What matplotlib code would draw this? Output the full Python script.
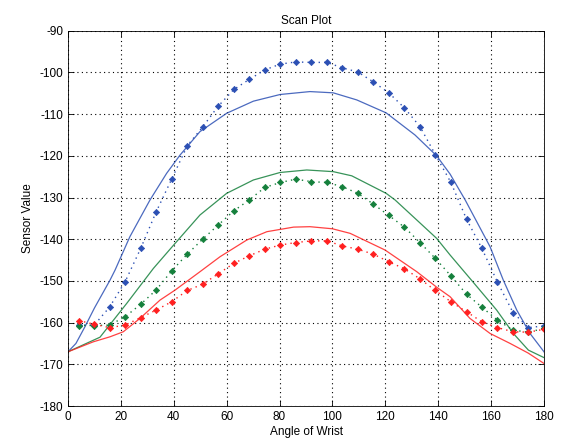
import matplotlib
matplotlib.use("Agg")
import matplotlib.pyplot as plt

plt.rcParams['font.family'] = ['Liberation Sans', 'DejaVu Sans']
plt.rcParams['axes.unicode_minus'] = False

# Measured (dotted, markers)
x_meas = [4, 9.9, 15.7, 21.6, 27.5, 33.3, 39.2, 45.1, 50.9, 56.8, 62.7, 68.5, 74.4, 80.3, 86.1,
          92, 97.9, 103.7, 109.6, 115.5, 121.3, 127.2, 133.1, 138.9, 144.8, 150.7, 156.5,
          162.4, 168.3, 174.1, 180]
blue_meas = [-160.6, -160.6, -156.3, -150.2, -142.2, -133.5, -125.6, -117.6, -113.1, -108.1,
             -104.1, -101.7, -99.4, -98.0, -97.5, -97.6, -97.6, -98.9, -99.9, -102.3, -104.9,
             -108.5, -113.0, -119.7, -126.4, -135.2, -142.2, -150.3, -157.6, -161.2, -160.8]
green_meas = [-160.7, -160.7, -160.6, -158.6, -155.6, -152.2, -147.6, -143.6, -140.0, -136.6,
              -133.2, -130.6, -127.6, -126.4, -125.6, -126.2, -126.4, -127.4, -129.0, -131.6,
              -134.3, -137.1, -140.8, -144.6, -148.8, -153.2, -156.3, -159.4, -161.8, -162.3,
              -161.4]
red_meas = [-159.5, -160.4, -161.2, -160.6, -158.8, -157.0, -155.0, -152.3, -150.8, -148.3,
            -145.8, -144.0, -142.4, -141.4, -140.8, -140.4, -140.4, -141.6, -142.4, -143.6,
            -145.4, -147.1, -149.5, -152.3, -155.0, -157.4, -159.8, -161.2, -162.2, -162.3,
            -161.6]

# Model (solid lines)
x_blue_model = [0, 3, 6.4, 10, 15.9, 17.8, 23.4, 31, 37.3, 42.4, 49.9, 60, 70.1, 80.2, 91.5,
                100.3, 109.2, 120.3, 131.2, 139.4, 144.5, 150.2, 159.6, 164.6, 169.7, 174.7, 180]
y_blue_model = [-167.0, -165.0, -161.0, -156.5, -149.8, -147.4, -139.4, -130.6, -124.2, -119.8,
                -114.2, -109.8, -106.9, -105.3, -104.6, -104.9, -106.6, -109.7, -115.0, -120.0,
                -124.4, -130.6, -141.8, -149.8, -157.0, -162.6, -167.0]
x_green_model = [0, 12.1, 22.2, 32.3, 40.5, 49.9, 60, 70.1, 80.2, 90.3, 100.3, 107.3, 120.3,
                 123.7, 131.9, 139.4, 144.5, 152.8, 162.1, 168.4, 174.1, 180]
y_green_model = [-167.0, -163.5, -155.4, -147.0, -141.0, -134.2, -129.0, -125.8, -124.0, -123.4,
                 -123.8, -124.8, -129.0, -130.6, -135.4, -139.8, -143.8, -150.0, -157.0, -162.6,
                 -166.6, -168.4]
x_red_model = [0, 9.6, 15.9, 20.9, 27.2, 34.8, 40.5, 49.9, 57.5, 67.6, 75.2, 85.3, 91.5, 100,
               106.7, 119.9, 131.9, 139.4, 144.5, 152.0, 159.6, 167.2, 174, 180]
y_red_model = [-167.0, -164.6, -163.4, -162.2, -159.0, -154.6, -152.2, -147.8, -144.2, -140.2,
               -138.2, -137.1, -137.0, -137.5, -138.6, -142.6, -147.8, -151.5, -153.8, -159.0,
               -162.6, -165.0, -167.3, -169.8]

blue = '#2c50b4'
green = '#15803c'
red = '#ff2020'

fig = plt.figure(figsize=(5.63, 4.47), dpi=100)
ax = fig.add_axes([68 / 563, (447 - 406) / 447, 476 / 563, 375.3 / 447])

for xm, ym, c in [(x_blue_model, y_blue_model, blue), (x_green_model, y_green_model, green),
                  (x_red_model, y_red_model, red)]:
    ax.plot(xm, ym, '-', color=c, lw=0.9, alpha=0.85)
for ym, c in [(blue_meas, blue), (green_meas, green), (red_meas, red)]:
    ax.plot(x_meas, ym, linestyle=(0, (1, 3)), color=c, lw=1.0, marker='D', ms=3.2,
            markeredgewidth=0.5)

ax.set_xlim(0, 180)
ax.set_ylim(-180, -90)
ax.set_xticks(range(0, 181, 20))
ax.set_yticks(range(-180, -89, 10))
ax.grid(True, color='black', linestyle=(0, (1, 3)), linewidth=0.8)
ax.tick_params(direction='in', top=True, right=True, labelsize=8.5, length=4, width=0.6)
for s in ax.spines.values():
    s.set_linewidth(0.6)
ax.set_title('Scan Plot', fontsize=8.5, pad=5)
ax.set_xlabel('Angle of Wrist', fontsize=8.5, labelpad=2)
ax.set_ylabel('Sensor Value', fontsize=8.5, labelpad=4)

fig.savefig('out.png', dpi=100)
